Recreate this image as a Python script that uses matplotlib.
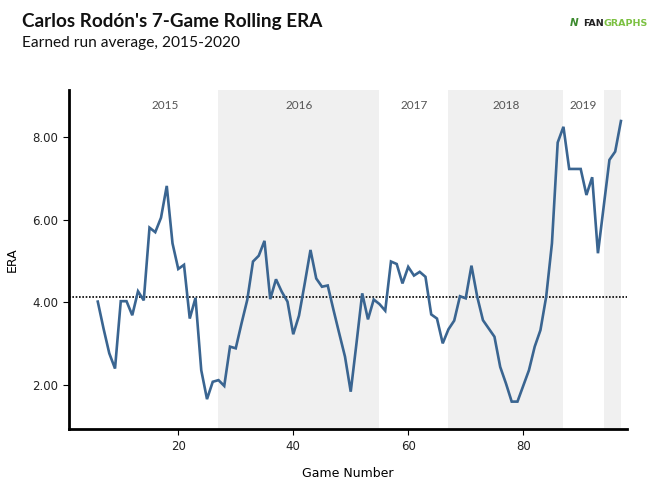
import matplotlib
matplotlib.use("Agg")
import matplotlib.pyplot as plt

# 7-game rolling ERA
games = list(range(6, 98))
era = [4.02, 3.37, 2.77, 2.40, 4.03, 4.03, 3.69, 4.27, 4.05, 5.81,
       5.70, 6.05, 6.82, 5.43, 4.81, 4.91, 3.61, 4.11, 2.36, 1.66,
       2.08, 2.12, 1.98, 2.93, 2.89, 3.49, 4.06, 4.99, 5.13, 5.49,
       4.08, 4.56, 4.26, 4.02, 3.23, 3.68, 4.46, 5.27, 4.58, 4.38,
       4.41, 3.82, 3.25, 2.69, 1.84, 3.01, 4.22, 3.59, 4.07, 3.96,
       3.80, 4.99, 4.93, 4.46, 4.86, 4.65, 4.74, 4.62, 3.71, 3.61,
       3.01, 3.35, 3.56, 4.15, 4.10, 4.89, 4.14, 3.57, 3.37, 3.17,
       2.44, 2.04, 1.60, 1.60, 1.98, 2.36, 2.93, 3.33, 4.14, 5.43,
       7.87, 8.25, 7.23, 7.23, 7.23, 6.60, 7.03, 5.19, 6.32, 7.45,
       7.65, 8.39]
career_era = 4.14

years = ["2015", "2016", "2017", "2018", "2019"]
year_label_x = [17.7, 41, 61, 77, 90.5]
shaded_spans = [(27, 55), (67, 87), (94, 97)]

LINE = "#3a6591"
SHADE = "#f0f0f0"

plt.rcParams["font.family"] = ["Lato", "DejaVu Sans"]

fig = plt.figure(figsize=(6.53, 4.93), dpi=100)
ax = fig.add_axes([0.1057, 0.1292, 0.854, 0.6882])

for x0, x1 in shaded_spans:
    ax.axvspan(x0, x1, color=SHADE, lw=0, zorder=0)

ax.axhline(career_era, color="black", ls=(0, (1, 1)), lw=1.2, zorder=1)
ax.plot(games, era, color=LINE, lw=1.9, zorder=2, solid_joinstyle="miter")

for lab, xp in zip(years, year_label_x):
    ax.text(xp, 8.76, lab, ha="center", va="center", fontsize=8.5,
            color="#555555")

ax.set_xlim(1, 98)
ax.set_ylim(0.93, 9.14)
ax.set_xticks([20, 40, 60, 80])
ax.set_yticks([2, 4, 6, 8])
ax.set_yticklabels(["2.00", "4.00", "6.00", "8.00"])
ax.tick_params(axis="both", length=4, width=0.8, labelcolor="#222222")
for lab in ax.get_xticklabels() + ax.get_yticklabels():
    lab.set_family(["DejaVu Sans"])
    lab.set_fontsize(8.5)
for s in ("top", "right"):
    ax.spines[s].set_visible(False)
for s in ("left", "bottom"):
    ax.spines[s].set_linewidth(2)
ax.set_xlabel("Game Number", fontsize=9, labelpad=10, family=["DejaVu Sans"])
ax.set_ylabel("ERA", fontsize=9, labelpad=10, family=["DejaVu Sans"])

fig.text(0.033, 0.946, "Carlos Rodón's 7-Game Rolling ERA", fontsize=13.6,
         fontweight="bold", va="baseline", color="#111111")
fig.text(0.033, 0.905, "Earned run average, 2015-2020", fontsize=11.2,
         va="baseline", color="#111111")

# FanGraphs wordmark: icon, dark "FAN", green "GRAPHS" right after it
fig.text(0.872, 0.948, "N", fontsize=7.5, fontweight="bold", style="italic",
         color="#3d8b2f", va="baseline", ha="left", family=["DejaVu Sans"])
fan = fig.text(0.893, 0.948, "FAN", fontsize=6.8, fontweight="bold",
               color="#222222", va="baseline", ha="left",
               family=["DejaVu Sans"])
fig.canvas.draw()
fan_end = fan.get_window_extent().x1 / fig.bbox.width
fig.text(fan_end, 0.948, "GRAPHS", fontsize=6.8, fontweight="bold",
         color="#7cc142", va="baseline", ha="left", family=["DejaVu Sans"])

fig.savefig("out.png", dpi=100)
